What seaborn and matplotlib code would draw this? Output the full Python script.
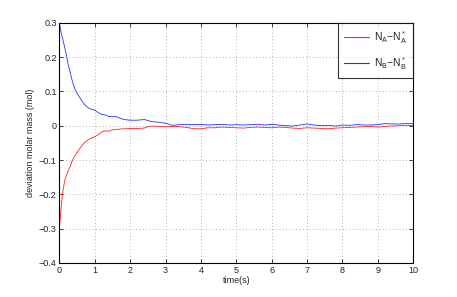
import numpy as np
import pandas as pd
import matplotlib
matplotlib.use('Agg')
import matplotlib.pyplot as plt
from matplotlib.lines import Line2D
import seaborn as sns

# Data
time = [0, 0.05, 0.1, 0.15, 0.2, 0.25, 0.3, 0.35, 0.4, 0.45, 0.5, 0.6, 0.7, 0.8, 0.9,
        1.0, 1.1, 1.2, 1.3, 1.4, 1.5, 1.6, 1.7, 1.8, 1.9, 2.0, 2.2, 2.4, 2.5, 2.6, 2.8,
        3.0, 3.2, 3.4, 3.6, 3.8, 4.0, 4.2, 4.4, 4.6, 4.8, 5.0, 5.2, 5.4, 5.6, 5.8, 6.0,
        6.2, 6.4, 6.6, 6.8, 7.0, 7.2, 7.4, 7.6, 7.8, 8.0, 8.2, 8.4, 8.6, 8.8, 9.0, 9.2,
        9.4, 9.6, 9.8, 10.0]

dev_a = [-0.30, -0.235, -0.19, -0.16, -0.145, -0.13, -0.12, -0.105, -0.095, -0.085, -0.078,
         -0.063, -0.05, -0.042, -0.036, -0.032, -0.026, -0.018, -0.015, -0.016, -0.012,
         -0.011, -0.010, -0.009, -0.009, -0.008, -0.008, -0.007, -0.003, -0.001, -0.002,
         -0.003, -0.002, -0.003, -0.005, -0.009, -0.009, -0.006, -0.006, -0.004, -0.005,
         -0.006, -0.007, -0.005, -0.004, -0.005, -0.006, -0.004, -0.005, -0.007, -0.008,
         -0.006, -0.007, -0.008, -0.009, -0.007, -0.006, -0.005, -0.004, -0.003, -0.002,
         -0.004, -0.002, -0.001, 0.000, 0.001, 0.001]

dev_b = [0.300, 0.27, 0.25, 0.228, 0.205, 0.177, 0.158, 0.136, 0.118, 0.104, 0.094,
         0.078, 0.063, 0.053, 0.048, 0.045, 0.038, 0.033, 0.031, 0.027, 0.026, 0.027,
         0.022, 0.019, 0.017, 0.016, 0.016, 0.018, 0.015, 0.012, 0.010, 0.007, 0.001,
         0.003, 0.004, 0.003, 0.004, 0.002, 0.003, 0.004, 0.002, 0.003, 0.002, 0.003,
         0.004, 0.002, 0.004, 0.002, 0.000, -0.001, 0.002, 0.005, 0.002, 0.000, 0.001,
         -0.001, 0.002, 0.001, 0.003, 0.002, 0.002, 0.003, 0.006, 0.005, 0.005, 0.006,
         0.006]

labels = [r'$\mathregular{N_A{-}N_A^*}$', r'$\mathregular{N_B{-}N_B^*}$']
colors = ['#ff2222', '#2233ff']

df = pd.concat([
    pd.DataFrame({'time': time, 'dev': dev_a, 'series': labels[0]}),
    pd.DataFrame({'time': time, 'dev': dev_b, 'series': labels[1]}),
])

sns.set_style('white')
plt.rcParams['font.family'] = ['Liberation Sans', 'DejaVu Sans']
plt.rcParams['mathtext.fontset'] = 'custom'
plt.rcParams['mathtext.rm'] = 'Liberation Sans'
plt.rcParams['mathtext.it'] = 'Liberation Sans'

fig = plt.figure(figsize=(4.57, 2.97), dpi=100)
ax = fig.add_axes([0.130, 0.1145, 0.774, 0.809])

sns.lineplot(data=df, x='time', y='dev', hue='series', hue_order=labels,
             palette=colors, linewidth=0.6, ax=ax, legend=False)

ax.set_xlim(0, 10)
ax.set_ylim(-0.4, 0.3)
ax.set_xticks(np.arange(0, 11, 1))
ax.set_yticks(np.arange(-0.4, 0.31, 0.1))
ax.set_yticklabels(['\u22120.4', '\u22120.3', '\u22120.2', '\u22120.1', '0', '0.1', '0.2', '0.3'])
ax.grid(True, linestyle=(0, (1, 3)), color='#999999', linewidth=0.6)
ax.tick_params(direction='in', length=3, width=0.6, labelsize=6.5, top=True, right=True,
               bottom=True, left=True, pad=2, colors='#222222')
for s in ax.spines.values():
    s.set_linewidth(0.8)
    s.set_color('black')
ax.set_xlabel('time(s)', fontsize=6.5, labelpad=1)
ax.set_ylabel('deviation molar mass (mol)', fontsize=6.5, labelpad=3)

handles = [Line2D([], [], color=c, linewidth=0.8) for c in colors]
leg = ax.legend(handles, labels, loc='upper right', fontsize=7.5,
                frameon=True, fancybox=False, borderaxespad=0, handlelength=2.4,
                borderpad=0.6, labelspacing=0.9, handletextpad=0.4)
leg.get_frame().set_edgecolor('black')
leg.get_frame().set_linewidth(0.8)

fig.savefig('out.png', dpi=100)
